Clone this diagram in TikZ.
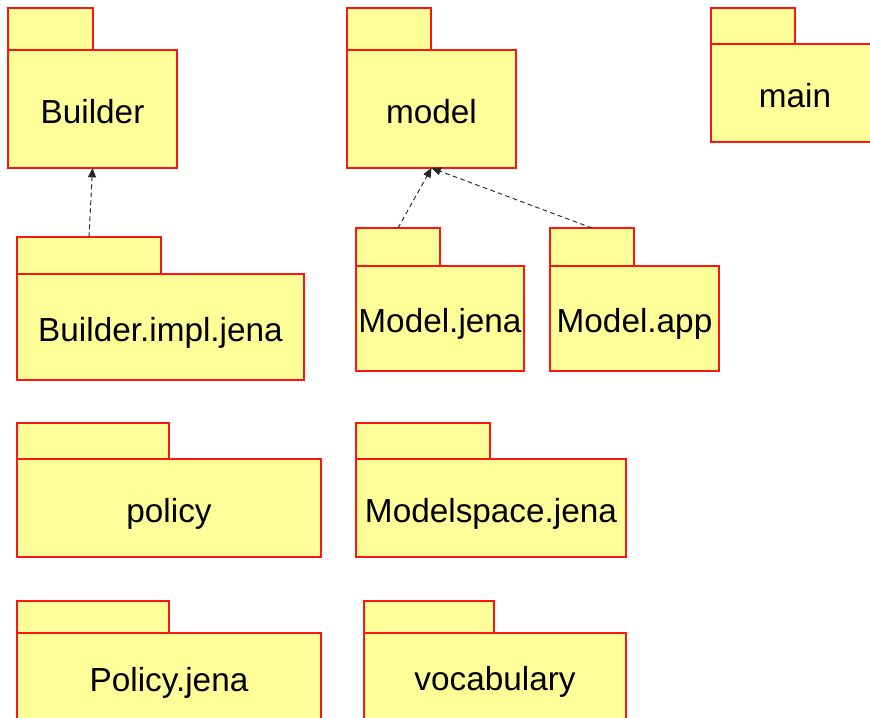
\documentclass[tikz,border=0pt]{standalone}
\usepackage{fontspec}
\setmainfont{Liberation Sans}
\usetikzlibrary{arrows.meta}
\definecolor{pkgyellow}{RGB}{255,255,153}
\definecolor{pkgred}{RGB}{255,20,20}
\tikzset{
  pkgtab/.style={draw=pkgred, fill=pkgyellow, line width=0.8pt, inner sep=0pt, outer sep=0pt},
  pkgbody/.style={draw=pkgred, fill=pkgyellow, line width=0.8pt, inner sep=0pt, outer sep=0pt,
    font=\fontsize{25}{30}\selectfont, text height=21pt, text depth=0pt},
  dep/.style={draw=black!85, line width=0.7pt, dash pattern=on 3.5pt off 2.5pt,
    -{Triangle[length=7pt,width=6pt]}},
}
% UML package: name, left, tab top, tab right, body top, right, bottom, label (pixel units)
\newcommand\umlpackage[8]{%
  \node[pkgtab, anchor=north west, minimum width={(#4-#2)*0.75pt}, minimum height={(#5-#3)*0.75pt}]
    (#1tab) at (#2,#3) {};
  \node[pkgbody, anchor=north west, minimum width={(#6-#2)*0.75pt}, minimum height={(#7-#5)*0.75pt}]
    (#1) at (#2,#5) {#8};
}
\begin{document}
\begin{tikzpicture}[x=0.75pt, y=-0.75pt]
  \useasboundingbox (0,0) rectangle (870,717);
  \clip (0,0) rectangle (870,717);
  \fill[white] (0,0) rectangle (870,717);

  \umlpackage{builder}{8}{8}{93}{50}{177}{168}{Builder}
  \umlpackage{model}{347}{8}{431}{50}{516}{168}{model}
  \umlpackage{main}{711}{8}{795}{44}{879}{142}{main}

  \umlpackage{bimpl}{17}{237}{161}{274}{304}{380}{Builder.impl.jena}
  \umlpackage{mjena}{356}{228}{440}{266}{524}{371}{Model.jena}
  \umlpackage{mapp}{550}{228}{634}{266}{719}{371}{Model.app}

  \umlpackage{policy}{17}{423}{169}{459}{321}{557}{policy}
  \umlpackage{mspace}{356}{423}{490}{459}{626}{557}{Modelspace.jena}

  \umlpackage{pjena}{17}{601}{169}{633}{321}{722}{Policy.jena}
  \umlpackage{vocab}{364}{601}{494}{633}{626}{720}{vocabulary}

  % dependencies
  \draw[dep] (bimpltab.north) -- (builder.south);
  \draw[dep] (mjenatab.north) -- (model.south);
  \draw[dep] (mapptab.north) -- (model.south);
\end{tikzpicture}
\end{document}
